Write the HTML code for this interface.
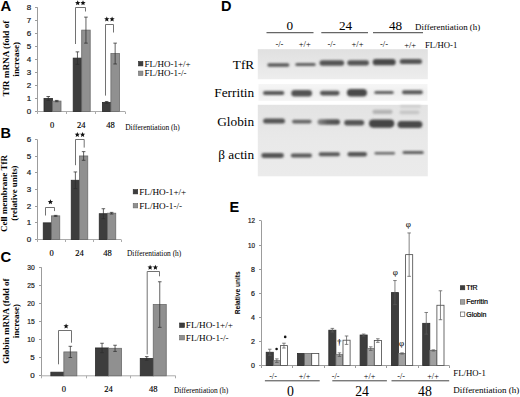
<!DOCTYPE html>
<html><head><meta charset="utf-8"><style>
html,body{margin:0;padding:0;background:#fff;width:520px;height:397px;overflow:hidden;}
svg{display:block;}
</style></head><body>
<svg width="520" height="397" viewBox="0 0 520 397">
<rect width="520" height="397" fill="#fff"/>
<text x="0.60" y="11.10" font-family="'Liberation Sans', sans-serif" font-size="14.8" font-weight="bold" text-anchor="start" fill="#000" >A</text>
<line x1="37.50" y1="7.34" x2="37.50" y2="111.50" stroke="#9c9c9c" stroke-width="1"/>
<line x1="35.00" y1="111.50" x2="37.50" y2="111.50" stroke="#9c9c9c" stroke-width="1"/>
<text x="31.30" y="114.38" font-family="'Liberation Sans', sans-serif" font-size="8" font-weight="normal" text-anchor="end" fill="#1a1a1a" stroke="#1a1a1a" stroke-width="0.22">0</text>
<line x1="35.00" y1="98.50" x2="37.50" y2="98.50" stroke="#9c9c9c" stroke-width="1"/>
<text x="31.30" y="101.38" font-family="'Liberation Sans', sans-serif" font-size="8" font-weight="normal" text-anchor="end" fill="#1a1a1a" stroke="#1a1a1a" stroke-width="0.22">1</text>
<line x1="35.00" y1="85.50" x2="37.50" y2="85.50" stroke="#9c9c9c" stroke-width="1"/>
<text x="31.30" y="88.38" font-family="'Liberation Sans', sans-serif" font-size="8" font-weight="normal" text-anchor="end" fill="#1a1a1a" stroke="#1a1a1a" stroke-width="0.22">2</text>
<line x1="35.00" y1="72.50" x2="37.50" y2="72.50" stroke="#9c9c9c" stroke-width="1"/>
<text x="31.30" y="75.38" font-family="'Liberation Sans', sans-serif" font-size="8" font-weight="normal" text-anchor="end" fill="#1a1a1a" stroke="#1a1a1a" stroke-width="0.22">3</text>
<line x1="35.00" y1="59.50" x2="37.50" y2="59.50" stroke="#9c9c9c" stroke-width="1"/>
<text x="31.30" y="62.38" font-family="'Liberation Sans', sans-serif" font-size="8" font-weight="normal" text-anchor="end" fill="#1a1a1a" stroke="#1a1a1a" stroke-width="0.22">4</text>
<line x1="35.00" y1="46.50" x2="37.50" y2="46.50" stroke="#9c9c9c" stroke-width="1"/>
<text x="31.30" y="49.38" font-family="'Liberation Sans', sans-serif" font-size="8" font-weight="normal" text-anchor="end" fill="#1a1a1a" stroke="#1a1a1a" stroke-width="0.22">5</text>
<line x1="35.00" y1="33.50" x2="37.50" y2="33.50" stroke="#9c9c9c" stroke-width="1"/>
<text x="31.30" y="36.38" font-family="'Liberation Sans', sans-serif" font-size="8" font-weight="normal" text-anchor="end" fill="#1a1a1a" stroke="#1a1a1a" stroke-width="0.22">6</text>
<line x1="35.00" y1="20.50" x2="37.50" y2="20.50" stroke="#9c9c9c" stroke-width="1"/>
<text x="31.30" y="23.38" font-family="'Liberation Sans', sans-serif" font-size="8" font-weight="normal" text-anchor="end" fill="#1a1a1a" stroke="#1a1a1a" stroke-width="0.22">7</text>
<line x1="35.00" y1="7.50" x2="37.50" y2="7.50" stroke="#9c9c9c" stroke-width="1"/>
<text x="31.30" y="10.38" font-family="'Liberation Sans', sans-serif" font-size="8" font-weight="normal" text-anchor="end" fill="#1a1a1a" stroke="#1a1a1a" stroke-width="0.22">8</text>
<line x1="37.50" y1="111.50" x2="125.00" y2="111.50" stroke="#ababab" stroke-width="1"/>
<line x1="37.50" y1="111.50" x2="37.50" y2="114.00" stroke="#ababab" stroke-width="1"/>
<line x1="66.50" y1="111.50" x2="66.50" y2="114.00" stroke="#ababab" stroke-width="1"/>
<line x1="95.50" y1="111.50" x2="95.50" y2="114.00" stroke="#ababab" stroke-width="1"/>
<line x1="125.50" y1="111.50" x2="125.50" y2="114.00" stroke="#ababab" stroke-width="1"/>
<rect x="44.00" y="98.48" width="8.50" height="13.02" fill="#3d3d3d" stroke="#2a2a2a" stroke-width="0.8"/>
<line x1="48.25" y1="96.53" x2="48.25" y2="100.43" stroke="#2e2e2e" stroke-width="0.75"/>
<line x1="46.45" y1="96.53" x2="50.05" y2="96.53" stroke="#2e2e2e" stroke-width="0.75"/>
<line x1="46.45" y1="100.43" x2="50.05" y2="100.43" stroke="#2e2e2e" stroke-width="0.75"/>
<rect x="52.50" y="101.08" width="8.50" height="10.42" fill="#909090" stroke="#6a6a6a" stroke-width="0.8"/>
<line x1="56.75" y1="100.43" x2="56.75" y2="101.73" stroke="#2e2e2e" stroke-width="0.75"/>
<line x1="54.95" y1="100.43" x2="58.55" y2="100.43" stroke="#2e2e2e" stroke-width="0.75"/>
<line x1="54.95" y1="101.73" x2="58.55" y2="101.73" stroke="#2e2e2e" stroke-width="0.75"/>
<rect x="73.20" y="58.12" width="8.50" height="53.38" fill="#3d3d3d" stroke="#2a2a2a" stroke-width="0.8"/>
<line x1="77.45" y1="51.87" x2="77.45" y2="64.37" stroke="#2e2e2e" stroke-width="0.75"/>
<line x1="75.65" y1="51.87" x2="79.25" y2="51.87" stroke="#2e2e2e" stroke-width="0.75"/>
<line x1="75.65" y1="64.37" x2="79.25" y2="64.37" stroke="#2e2e2e" stroke-width="0.75"/>
<rect x="81.70" y="30.12" width="8.50" height="81.38" fill="#909090" stroke="#6a6a6a" stroke-width="0.8"/>
<line x1="85.95" y1="17.11" x2="85.95" y2="43.14" stroke="#2e2e2e" stroke-width="0.75"/>
<line x1="84.15" y1="17.11" x2="87.75" y2="17.11" stroke="#2e2e2e" stroke-width="0.75"/>
<line x1="84.15" y1="43.14" x2="87.75" y2="43.14" stroke="#2e2e2e" stroke-width="0.75"/>
<rect x="102.40" y="102.39" width="8.50" height="9.11" fill="#3d3d3d" stroke="#2a2a2a" stroke-width="0.8"/>
<line x1="106.65" y1="101.47" x2="106.65" y2="103.30" stroke="#2e2e2e" stroke-width="0.75"/>
<line x1="104.85" y1="101.47" x2="108.45" y2="101.47" stroke="#2e2e2e" stroke-width="0.75"/>
<line x1="104.85" y1="103.30" x2="108.45" y2="103.30" stroke="#2e2e2e" stroke-width="0.75"/>
<rect x="110.90" y="53.56" width="8.50" height="57.94" fill="#909090" stroke="#6a6a6a" stroke-width="0.8"/>
<line x1="115.15" y1="43.14" x2="115.15" y2="63.98" stroke="#2e2e2e" stroke-width="0.75"/>
<line x1="113.35" y1="43.14" x2="116.95" y2="43.14" stroke="#2e2e2e" stroke-width="0.75"/>
<line x1="113.35" y1="63.98" x2="116.95" y2="63.98" stroke="#2e2e2e" stroke-width="0.75"/>
<polyline points="75.50,44.00 75.50,7.50 85.50,7.50 85.50,11.50" fill="none" stroke="#6a6a6a" stroke-width="0.95"/>
<polygon points="77.70,0.37 78.43,2.12 80.32,2.27 78.88,3.50 79.32,5.34 77.70,4.36 76.08,5.34 76.52,3.50 75.08,2.27 76.97,2.12" fill="#111"/>
<polygon points="83.00,0.37 83.73,2.12 85.62,2.27 84.18,3.50 84.62,5.34 83.00,4.36 81.38,5.34 81.82,3.50 80.38,2.27 82.27,2.12" fill="#111"/>
<polyline points="105.50,95.60 105.50,24.50 113.50,24.50 113.50,32.50" fill="none" stroke="#6a6a6a" stroke-width="0.95"/>
<polygon points="106.80,16.47 107.53,18.22 109.42,18.37 107.98,19.60 108.42,21.44 106.80,20.46 105.18,21.44 105.62,19.60 104.18,18.37 106.07,18.22" fill="#111"/>
<polygon points="112.10,16.47 112.83,18.22 114.72,18.37 113.28,19.60 113.72,21.44 112.10,20.46 110.48,21.44 110.92,19.60 109.48,18.37 111.37,18.22" fill="#111"/>
<rect x="138.50" y="61.50" width="4.40" height="4.40" fill="#3d3d3d" stroke="#2a2a2a" stroke-width="0.6"/>
<text x="144.50" y="66.50" font-family="'Liberation Serif', serif" font-size="9.0" font-weight="normal" text-anchor="start" fill="#000" >FL/HO-1+/+</text>
<rect x="138.50" y="71.10" width="4.40" height="4.40" fill="#909090" stroke="#6a6a6a" stroke-width="0.6"/>
<text x="144.50" y="76.30" font-family="'Liberation Serif', serif" font-size="9.0" font-weight="normal" text-anchor="start" fill="#000" >FL/HO-1-/-</text>
<text x="52.10" y="127.60" font-family="'Liberation Serif', serif" font-size="8.5" font-weight="normal" text-anchor="middle" fill="#000"  stroke="#000" stroke-width="0.15">0</text>
<text x="81.30" y="127.60" font-family="'Liberation Serif', serif" font-size="8.5" font-weight="normal" text-anchor="middle" fill="#000"  stroke="#000" stroke-width="0.15">24</text>
<text x="110.50" y="127.60" font-family="'Liberation Serif', serif" font-size="8.5" font-weight="normal" text-anchor="middle" fill="#000"  stroke="#000" stroke-width="0.15">48</text>
<text x="125.20" y="130.10" font-family="'Liberation Serif', serif" font-size="7.45" font-weight="normal" text-anchor="start" fill="#000" >Differentiation (h)</text>
<text transform="translate(9.2,58.5) rotate(-90)" font-family="'Liberation Serif', serif" font-size="9.2" font-weight="bold" text-anchor="middle">TfR mRNA (fold of</text>
<text transform="translate(19.0,59.3) rotate(-90)" font-family="'Liberation Serif', serif" font-size="9.1" font-weight="bold" text-anchor="middle">increase)</text>
<text x="0.50" y="137.60" font-family="'Liberation Sans', sans-serif" font-size="14.5" font-weight="bold" text-anchor="start" fill="#000" >B</text>
<line x1="37.50" y1="139.66" x2="37.50" y2="239.50" stroke="#9c9c9c" stroke-width="1"/>
<line x1="35.00" y1="239.50" x2="37.50" y2="239.50" stroke="#9c9c9c" stroke-width="1"/>
<text x="31.30" y="242.38" font-family="'Liberation Sans', sans-serif" font-size="8" font-weight="normal" text-anchor="end" fill="#1a1a1a" stroke="#1a1a1a" stroke-width="0.22">0</text>
<line x1="35.00" y1="222.50" x2="37.50" y2="222.50" stroke="#9c9c9c" stroke-width="1"/>
<text x="31.30" y="225.38" font-family="'Liberation Sans', sans-serif" font-size="8" font-weight="normal" text-anchor="end" fill="#1a1a1a" stroke="#1a1a1a" stroke-width="0.22">1</text>
<line x1="35.00" y1="206.50" x2="37.50" y2="206.50" stroke="#9c9c9c" stroke-width="1"/>
<text x="31.30" y="209.38" font-family="'Liberation Sans', sans-serif" font-size="8" font-weight="normal" text-anchor="end" fill="#1a1a1a" stroke="#1a1a1a" stroke-width="0.22">2</text>
<line x1="35.00" y1="189.50" x2="37.50" y2="189.50" stroke="#9c9c9c" stroke-width="1"/>
<text x="31.30" y="192.38" font-family="'Liberation Sans', sans-serif" font-size="8" font-weight="normal" text-anchor="end" fill="#1a1a1a" stroke="#1a1a1a" stroke-width="0.22">3</text>
<line x1="35.00" y1="172.50" x2="37.50" y2="172.50" stroke="#9c9c9c" stroke-width="1"/>
<text x="31.30" y="175.38" font-family="'Liberation Sans', sans-serif" font-size="8" font-weight="normal" text-anchor="end" fill="#1a1a1a" stroke="#1a1a1a" stroke-width="0.22">4</text>
<line x1="35.00" y1="156.50" x2="37.50" y2="156.50" stroke="#9c9c9c" stroke-width="1"/>
<text x="31.30" y="159.38" font-family="'Liberation Sans', sans-serif" font-size="8" font-weight="normal" text-anchor="end" fill="#1a1a1a" stroke="#1a1a1a" stroke-width="0.22">5</text>
<line x1="35.00" y1="139.50" x2="37.50" y2="139.50" stroke="#9c9c9c" stroke-width="1"/>
<text x="31.30" y="142.38" font-family="'Liberation Sans', sans-serif" font-size="8" font-weight="normal" text-anchor="end" fill="#1a1a1a" stroke="#1a1a1a" stroke-width="0.22">6</text>
<line x1="37.50" y1="239.50" x2="121.00" y2="239.50" stroke="#ababab" stroke-width="1"/>
<line x1="37.50" y1="239.50" x2="37.50" y2="242.00" stroke="#ababab" stroke-width="1"/>
<line x1="65.50" y1="239.50" x2="65.50" y2="242.00" stroke="#ababab" stroke-width="1"/>
<line x1="93.50" y1="239.50" x2="93.50" y2="242.00" stroke="#ababab" stroke-width="1"/>
<line x1="121.50" y1="239.50" x2="121.50" y2="242.00" stroke="#ababab" stroke-width="1"/>
<rect x="43.25" y="222.86" width="8.25" height="16.64" fill="#3d3d3d" stroke="#2a2a2a" stroke-width="0.8"/>
<rect x="51.50" y="215.87" width="8.25" height="23.63" fill="#909090" stroke="#6a6a6a" stroke-width="0.8"/>
<line x1="55.62" y1="215.37" x2="55.62" y2="216.37" stroke="#2e2e2e" stroke-width="0.75"/>
<line x1="53.83" y1="215.37" x2="57.42" y2="215.37" stroke="#2e2e2e" stroke-width="0.75"/>
<line x1="53.83" y1="216.37" x2="57.42" y2="216.37" stroke="#2e2e2e" stroke-width="0.75"/>
<rect x="71.25" y="180.26" width="8.25" height="59.24" fill="#3d3d3d" stroke="#2a2a2a" stroke-width="0.8"/>
<line x1="75.38" y1="171.94" x2="75.38" y2="188.58" stroke="#2e2e2e" stroke-width="0.75"/>
<line x1="73.58" y1="171.94" x2="77.17" y2="171.94" stroke="#2e2e2e" stroke-width="0.75"/>
<line x1="73.58" y1="188.58" x2="77.17" y2="188.58" stroke="#2e2e2e" stroke-width="0.75"/>
<rect x="79.50" y="155.97" width="8.25" height="83.53" fill="#909090" stroke="#6a6a6a" stroke-width="0.8"/>
<line x1="83.62" y1="151.64" x2="83.62" y2="160.29" stroke="#2e2e2e" stroke-width="0.75"/>
<line x1="81.83" y1="151.64" x2="85.42" y2="151.64" stroke="#2e2e2e" stroke-width="0.75"/>
<line x1="81.83" y1="160.29" x2="85.42" y2="160.29" stroke="#2e2e2e" stroke-width="0.75"/>
<rect x="99.25" y="213.71" width="8.25" height="25.79" fill="#3d3d3d" stroke="#2a2a2a" stroke-width="0.8"/>
<line x1="103.38" y1="208.72" x2="103.38" y2="218.70" stroke="#2e2e2e" stroke-width="0.75"/>
<line x1="101.58" y1="208.72" x2="105.17" y2="208.72" stroke="#2e2e2e" stroke-width="0.75"/>
<line x1="101.58" y1="218.70" x2="105.17" y2="218.70" stroke="#2e2e2e" stroke-width="0.75"/>
<rect x="107.50" y="213.21" width="8.25" height="26.29" fill="#909090" stroke="#6a6a6a" stroke-width="0.8"/>
<line x1="111.62" y1="212.38" x2="111.62" y2="214.04" stroke="#2e2e2e" stroke-width="0.75"/>
<line x1="109.83" y1="212.38" x2="113.42" y2="212.38" stroke="#2e2e2e" stroke-width="0.75"/>
<line x1="109.83" y1="214.04" x2="113.42" y2="214.04" stroke="#2e2e2e" stroke-width="0.75"/>
<polyline points="45.50,215.50 45.50,207.50 54.50,207.50 54.50,211.10" fill="none" stroke="#6a6a6a" stroke-width="0.95"/>
<polygon points="50.40,199.37 51.13,201.12 53.02,201.27 51.58,202.50 52.02,204.34 50.40,203.36 48.78,204.34 49.22,202.50 47.78,201.27 49.67,201.12" fill="#111"/>
<polyline points="75.50,165.20 75.50,139.50 84.20,139.50 84.20,147.60" fill="none" stroke="#6a6a6a" stroke-width="0.95"/>
<polygon points="77.30,131.97 78.03,133.72 79.92,133.87 78.48,135.10 78.92,136.94 77.30,135.96 75.68,136.94 76.12,135.10 74.68,133.87 76.57,133.72" fill="#111"/>
<polygon points="82.60,131.97 83.33,133.72 85.22,133.87 83.78,135.10 84.22,136.94 82.60,135.96 80.98,136.94 81.42,135.10 79.98,133.87 81.87,133.72" fill="#111"/>
<rect x="133.20" y="189.60" width="4.50" height="4.30" fill="#3d3d3d" stroke="#2a2a2a" stroke-width="0.6"/>
<text x="139.20" y="194.70" font-family="'Liberation Serif', serif" font-size="9.2" font-weight="normal" text-anchor="start" fill="#000" >FL/HO-1+/+</text>
<rect x="133.20" y="203.60" width="4.50" height="4.30" fill="#909090" stroke="#6a6a6a" stroke-width="0.6"/>
<text x="139.20" y="208.60" font-family="'Liberation Serif', serif" font-size="9.2" font-weight="normal" text-anchor="start" fill="#000" >FL/HO-1-/-</text>
<text x="51.50" y="255.50" font-family="'Liberation Serif', serif" font-size="8.5" font-weight="normal" text-anchor="middle" fill="#000"  stroke="#000" stroke-width="0.15">0</text>
<text x="79.50" y="255.50" font-family="'Liberation Serif', serif" font-size="8.5" font-weight="normal" text-anchor="middle" fill="#000"  stroke="#000" stroke-width="0.15">24</text>
<text x="107.50" y="255.50" font-family="'Liberation Serif', serif" font-size="8.5" font-weight="normal" text-anchor="middle" fill="#000"  stroke="#000" stroke-width="0.15">48</text>
<text x="127.00" y="255.50" font-family="'Liberation Serif', serif" font-size="7.4" font-weight="normal" text-anchor="start" fill="#000" >Differentiation (h)</text>
<text transform="translate(7.1,193.5) rotate(-90)" font-family="'Liberation Serif', serif" font-size="9" font-weight="bold" text-anchor="middle">Cell membrane TfR</text>
<text transform="translate(16.9,193.1) rotate(-90)" font-family="'Liberation Serif', serif" font-size="8.9" font-weight="bold" text-anchor="middle">(relative units)</text>
<text x="0.40" y="261.60" font-family="'Liberation Sans', sans-serif" font-size="14.8" font-weight="bold" text-anchor="start" fill="#000" >C</text>
<line x1="41.50" y1="267.29" x2="41.50" y2="375.80" stroke="#9c9c9c" stroke-width="1"/>
<line x1="39.00" y1="375.50" x2="41.50" y2="375.50" stroke="#9c9c9c" stroke-width="1"/>
<text x="34.80" y="378.38" font-family="'Liberation Sans', sans-serif" font-size="8" font-weight="normal" text-anchor="end" fill="#1a1a1a" stroke="#1a1a1a" stroke-width="0.22">0</text>
<line x1="39.00" y1="357.50" x2="41.50" y2="357.50" stroke="#9c9c9c" stroke-width="1"/>
<text x="34.80" y="360.38" font-family="'Liberation Sans', sans-serif" font-size="8" font-weight="normal" text-anchor="end" fill="#1a1a1a" stroke="#1a1a1a" stroke-width="0.22">5</text>
<line x1="39.00" y1="339.50" x2="41.50" y2="339.50" stroke="#9c9c9c" stroke-width="1"/>
<text x="27.30" y="342.38" font-family="'Liberation Sans', sans-serif" font-size="8" font-weight="normal" text-anchor="start" fill="#1a1a1a" textLength="7.5" lengthAdjust="spacingAndGlyphs" stroke="#1a1a1a" stroke-width="0.22">10</text>
<line x1="39.00" y1="321.50" x2="41.50" y2="321.50" stroke="#9c9c9c" stroke-width="1"/>
<text x="27.30" y="324.38" font-family="'Liberation Sans', sans-serif" font-size="8" font-weight="normal" text-anchor="start" fill="#1a1a1a" textLength="7.5" lengthAdjust="spacingAndGlyphs" stroke="#1a1a1a" stroke-width="0.22">15</text>
<line x1="39.00" y1="303.50" x2="41.50" y2="303.50" stroke="#9c9c9c" stroke-width="1"/>
<text x="27.30" y="306.38" font-family="'Liberation Sans', sans-serif" font-size="8" font-weight="normal" text-anchor="start" fill="#1a1a1a" textLength="7.5" lengthAdjust="spacingAndGlyphs" stroke="#1a1a1a" stroke-width="0.22">20</text>
<line x1="39.00" y1="285.50" x2="41.50" y2="285.50" stroke="#9c9c9c" stroke-width="1"/>
<text x="27.30" y="288.38" font-family="'Liberation Sans', sans-serif" font-size="8" font-weight="normal" text-anchor="start" fill="#1a1a1a" textLength="7.5" lengthAdjust="spacingAndGlyphs" stroke="#1a1a1a" stroke-width="0.22">25</text>
<line x1="39.00" y1="267.50" x2="41.50" y2="267.50" stroke="#9c9c9c" stroke-width="1"/>
<text x="27.30" y="270.38" font-family="'Liberation Sans', sans-serif" font-size="8" font-weight="normal" text-anchor="start" fill="#1a1a1a" textLength="7.5" lengthAdjust="spacingAndGlyphs" stroke="#1a1a1a" stroke-width="0.22">30</text>
<line x1="41.50" y1="375.80" x2="175.60" y2="375.80" stroke="#ababab" stroke-width="1"/>
<line x1="41.50" y1="375.80" x2="41.50" y2="378.30" stroke="#ababab" stroke-width="1"/>
<line x1="86.50" y1="375.80" x2="86.50" y2="378.30" stroke="#ababab" stroke-width="1"/>
<line x1="130.50" y1="375.80" x2="130.50" y2="378.30" stroke="#ababab" stroke-width="1"/>
<line x1="175.50" y1="375.80" x2="175.50" y2="378.30" stroke="#ababab" stroke-width="1"/>
<rect x="50.85" y="372.18" width="13.00" height="3.62" fill="#3d3d3d" stroke="#2a2a2a" stroke-width="0.8"/>
<rect x="63.85" y="351.93" width="13.00" height="23.87" fill="#909090" stroke="#6a6a6a" stroke-width="0.8"/>
<line x1="70.35" y1="346.32" x2="70.35" y2="357.53" stroke="#2e2e2e" stroke-width="0.75"/>
<line x1="68.55" y1="346.32" x2="72.15" y2="346.32" stroke="#2e2e2e" stroke-width="0.75"/>
<line x1="68.55" y1="357.53" x2="72.15" y2="357.53" stroke="#2e2e2e" stroke-width="0.75"/>
<rect x="95.55" y="347.95" width="13.00" height="27.85" fill="#3d3d3d" stroke="#2a2a2a" stroke-width="0.8"/>
<line x1="102.05" y1="343.25" x2="102.05" y2="352.65" stroke="#2e2e2e" stroke-width="0.75"/>
<line x1="100.25" y1="343.25" x2="103.85" y2="343.25" stroke="#2e2e2e" stroke-width="0.75"/>
<line x1="100.25" y1="352.65" x2="103.85" y2="352.65" stroke="#2e2e2e" stroke-width="0.75"/>
<rect x="108.55" y="348.31" width="13.00" height="27.49" fill="#909090" stroke="#6a6a6a" stroke-width="0.8"/>
<line x1="115.05" y1="345.24" x2="115.05" y2="351.39" stroke="#2e2e2e" stroke-width="0.75"/>
<line x1="113.25" y1="345.24" x2="116.85" y2="345.24" stroke="#2e2e2e" stroke-width="0.75"/>
<line x1="113.25" y1="351.39" x2="116.85" y2="351.39" stroke="#2e2e2e" stroke-width="0.75"/>
<rect x="140.25" y="358.44" width="13.00" height="17.36" fill="#3d3d3d" stroke="#2a2a2a" stroke-width="0.8"/>
<line x1="146.75" y1="356.63" x2="146.75" y2="360.25" stroke="#2e2e2e" stroke-width="0.75"/>
<line x1="144.95" y1="356.63" x2="148.55" y2="356.63" stroke="#2e2e2e" stroke-width="0.75"/>
<line x1="144.95" y1="360.25" x2="148.55" y2="360.25" stroke="#2e2e2e" stroke-width="0.75"/>
<rect x="153.25" y="304.55" width="13.00" height="71.25" fill="#909090" stroke="#6a6a6a" stroke-width="0.8"/>
<line x1="159.75" y1="281.76" x2="159.75" y2="327.33" stroke="#2e2e2e" stroke-width="0.75"/>
<line x1="157.95" y1="281.76" x2="161.55" y2="281.76" stroke="#2e2e2e" stroke-width="0.75"/>
<line x1="157.95" y1="327.33" x2="161.55" y2="327.33" stroke="#2e2e2e" stroke-width="0.75"/>
<polyline points="58.50,364.30 58.50,330.50 71.50,330.50 71.50,342.70" fill="none" stroke="#6a6a6a" stroke-width="0.95"/>
<polygon points="66.10,323.47 66.83,325.22 68.72,325.37 67.28,326.60 67.72,328.44 66.10,327.46 64.48,328.44 64.92,326.60 63.48,325.37 65.37,325.22" fill="#111"/>
<polyline points="147.20,354.40 147.20,271.50 159.50,271.50 159.50,276.30" fill="none" stroke="#6a6a6a" stroke-width="0.95"/>
<polygon points="150.10,264.67 150.83,266.42 152.72,266.57 151.28,267.80 151.72,269.64 150.10,268.66 148.48,269.64 148.92,267.80 147.48,266.57 149.37,266.42" fill="#111"/>
<polygon points="155.40,264.67 156.13,266.42 158.02,266.57 156.58,267.80 157.02,269.64 155.40,268.66 153.78,269.64 154.22,267.80 152.78,266.57 154.67,266.42" fill="#111"/>
<rect x="179.60" y="323.00" width="4.90" height="4.50" fill="#3d3d3d" stroke="#2a2a2a" stroke-width="0.6"/>
<text x="185.80" y="328.20" font-family="'Liberation Serif', serif" font-size="9.2" font-weight="normal" text-anchor="start" fill="#000" >FL/HO-1+/+</text>
<rect x="179.60" y="335.40" width="4.90" height="4.50" fill="#909090" stroke="#6a6a6a" stroke-width="0.6"/>
<text x="185.80" y="341.10" font-family="'Liberation Serif', serif" font-size="9.2" font-weight="normal" text-anchor="start" fill="#000" >FL/HO-1-/-</text>
<text x="63.85" y="392.40" font-family="'Liberation Serif', serif" font-size="8.5" font-weight="normal" text-anchor="middle" fill="#000"  stroke="#000" stroke-width="0.15">0</text>
<text x="108.55" y="392.40" font-family="'Liberation Serif', serif" font-size="8.5" font-weight="normal" text-anchor="middle" fill="#000"  stroke="#000" stroke-width="0.15">24</text>
<text x="153.25" y="392.40" font-family="'Liberation Serif', serif" font-size="8.5" font-weight="normal" text-anchor="middle" fill="#000"  stroke="#000" stroke-width="0.15">48</text>
<text x="173.90" y="393.30" font-family="'Liberation Serif', serif" font-size="7.4" font-weight="normal" text-anchor="start" fill="#000" >Differentiation (h)</text>
<text transform="translate(9.1,321.2) rotate(-90)" font-family="'Liberation Serif', serif" font-size="9.0" font-weight="bold" text-anchor="middle">Globin mRNA (fold of</text>
<text transform="translate(19.0,321.2) rotate(-90)" font-family="'Liberation Serif', serif" font-size="9.0" font-weight="bold" text-anchor="middle">increase)</text>
<text x="221.00" y="11.30" font-family="'Liberation Sans', sans-serif" font-size="14.5" font-weight="bold" text-anchor="start" fill="#000" >D</text>
<text x="289.80" y="30.40" font-family="'Liberation Serif', serif" font-size="13.2" font-weight="normal" text-anchor="middle" fill="#000" >0</text>
<line x1="266.50" y1="32.70" x2="313.50" y2="32.70" stroke="#666" stroke-width="1.2"/>
<text x="345.50" y="30.40" font-family="'Liberation Serif', serif" font-size="13.2" font-weight="normal" text-anchor="middle" fill="#000" >24</text>
<line x1="321.30" y1="32.70" x2="368.00" y2="32.70" stroke="#666" stroke-width="1.2"/>
<text x="395.50" y="30.40" font-family="'Liberation Serif', serif" font-size="13.2" font-weight="normal" text-anchor="middle" fill="#000" >48</text>
<line x1="373.00" y1="32.70" x2="423.00" y2="32.70" stroke="#666" stroke-width="1.2"/>
<text x="415.00" y="30.30" font-family="'Liberation Serif', serif" font-size="8.9" font-weight="normal" text-anchor="start" fill="#000" >Differentiation (h)</text>
<text x="279.40" y="47.20" font-family="'Liberation Serif', serif" font-size="8.5" font-weight="normal" text-anchor="middle" fill="#000" >-/-</text>
<text x="304.80" y="47.20" font-family="'Liberation Serif', serif" font-size="8.5" font-weight="normal" text-anchor="middle" fill="#000" >+/+</text>
<text x="331.50" y="47.20" font-family="'Liberation Serif', serif" font-size="8.5" font-weight="normal" text-anchor="middle" fill="#000" >-/-</text>
<text x="357.50" y="47.20" font-family="'Liberation Serif', serif" font-size="8.5" font-weight="normal" text-anchor="middle" fill="#000" >+/+</text>
<text x="384.00" y="47.20" font-family="'Liberation Serif', serif" font-size="8.5" font-weight="normal" text-anchor="middle" fill="#000" >-/-</text>
<text x="410.20" y="48.20" font-family="'Liberation Serif', serif" font-size="8.5" font-weight="normal" text-anchor="middle" fill="#000" >+/+</text>
<text x="425.00" y="48.10" font-family="'Liberation Serif', serif" font-size="8.7" font-weight="normal" text-anchor="start" fill="#000" >FL/HO-1</text>
<defs><filter id="bl" x="-20%" y="-100%" width="140%" height="300%"><feGaussianBlur stdDeviation="0.95"/></filter><filter id="bl3" x="-20%" y="-100%" width="140%" height="300%"><feGaussianBlur stdDeviation="1.3"/></filter><filter id="bl2" x="-10%" y="-10%" width="120%" height="120%"><feGaussianBlur stdDeviation="0.7"/></filter><linearGradient id="gT" x1="0" y1="0" x2="0" y2="1"><stop offset="0" stop-color="#e0e0e0"/><stop offset="0.5" stop-color="#e7e7e7"/><stop offset="1" stop-color="#ededed"/></linearGradient><linearGradient id="gF" x1="0" y1="0" x2="0" y2="1"><stop offset="0" stop-color="#f6f6f6"/><stop offset="0.5" stop-color="#efefef"/><stop offset="1" stop-color="#f4f4f4"/></linearGradient><linearGradient id="gG" x1="0" y1="0" x2="0" y2="1"><stop offset="0" stop-color="#e3e3e3"/><stop offset="0.5" stop-color="#e9e9e9"/><stop offset="1" stop-color="#ebebeb"/></linearGradient></defs>
<g filter="url(#bl2)">
<rect x="257.80" y="49.20" width="170.00" height="30.00" fill="url(#gT)"/>
<rect x="258.50" y="84.00" width="169.00" height="16.80" fill="url(#gF)"/>
<rect x="257.80" y="104.80" width="170.00" height="71.50" fill="url(#gG)"/>
</g>
<rect x="267.30" y="63.20" width="22.10" height="3.60" rx="1.80" fill="#585858" opacity="1.0" filter="url(#bl)"/>
<rect x="295.30" y="62.90" width="20.40" height="3.00" rx="1.50" fill="#5e5e5e" opacity="1.0" filter="url(#bl)"/>
<rect x="319.50" y="60.20" width="24.70" height="5.60" rx="2.80" fill="#555555" opacity="1.0" filter="url(#bl)"/>
<rect x="347.30" y="60.20" width="21.70" height="5.20" rx="2.60" fill="#555555" opacity="1.0" filter="url(#bl)"/>
<rect x="372.70" y="59.10" width="23.00" height="6.20" rx="3.10" fill="#4a4a4a" opacity="1.0" filter="url(#bl)"/>
<rect x="399.70" y="58.90" width="22.30" height="5.00" rx="2.50" fill="#555555" opacity="1.0" filter="url(#bl)"/>
<rect x="263.00" y="91.00" width="21.30" height="4.00" rx="2.00" fill="#585858" opacity="1.0" filter="url(#bl)"/>
<rect x="291.30" y="90.00" width="20.70" height="6.60" rx="3.30" fill="#525252" opacity="1.0" filter="url(#bl)"/>
<rect x="320.00" y="90.70" width="19.60" height="4.80" rx="2.40" fill="#555555" opacity="1.0" filter="url(#bl)"/>
<rect x="346.90" y="88.95" width="20.10" height="7.50" rx="3.75" fill="#484848" opacity="1.0" filter="url(#bl)"/>
<rect x="374.30" y="91.00" width="19.40" height="3.00" rx="1.50" fill="#5e5e5e" opacity="1.0" filter="url(#bl)"/>
<rect x="402.00" y="90.30" width="20.80" height="4.00" rx="2.00" fill="#585858" opacity="1.0" filter="url(#bl)"/>
<rect x="263.10" y="118.40" width="21.90" height="5.00" rx="2.50" fill="#555555" opacity="1.0" filter="url(#bl)"/>
<rect x="292.00" y="119.80" width="19.60" height="3.60" rx="1.80" fill="#636363" opacity="1.0" filter="url(#bl)"/>
<linearGradient id="g24" x1="0" y1="0" x2="1" y2="0"><stop offset="0" stop-color="#8a8a8a"/><stop offset="0.45" stop-color="#5a5a5a"/><stop offset="1" stop-color="#4e4e4e"/></linearGradient>
<rect x="317.50" y="119.20" width="22.50" height="5.60" rx="2.80" fill="url(#g24)" opacity="1.0" filter="url(#bl)"/>
<rect x="344.20" y="119.95" width="20.00" height="5.50" rx="2.75" fill="#555555" opacity="1.0" filter="url(#bl)"/>
<rect x="369.00" y="119.50" width="25.30" height="8.20" rx="4.10" fill="#454545" opacity="1.0" filter="url(#bl)"/>
<rect x="397.50" y="120.90" width="24.90" height="7.20" rx="3.60" fill="#484848" opacity="1.0" filter="url(#bl)"/>
<g filter="url(#bl3)">
<rect x="372.5" y="109.8" width="20" height="4.2" rx="2" fill="#b4b4b4"/>
<rect x="399.5" y="110.6" width="20" height="3.6" rx="1.8" fill="#c6c6c6"/>
<rect x="400" y="105.2" width="21" height="2.6" rx="1.3" fill="#cdcdcd"/>
</g>
<rect x="261.30" y="153.10" width="22.60" height="4.80" rx="2.40" fill="#555555" opacity="1.0" filter="url(#bl)"/>
<rect x="290.80" y="153.50" width="21.20" height="4.00" rx="2.00" fill="#585858" opacity="1.0" filter="url(#bl)"/>
<rect x="318.75" y="152.25" width="21.25" height="4.00" rx="2.00" fill="#585858" opacity="1.0" filter="url(#bl)"/>
<rect x="347.50" y="152.00" width="19.50" height="4.50" rx="2.25" fill="#555555" opacity="1.0" filter="url(#bl)"/>
<rect x="374.50" y="151.95" width="20.50" height="2.60" rx="1.30" fill="#636363" opacity="1.0" filter="url(#bl)"/>
<rect x="402.50" y="151.00" width="21.25" height="3.00" rx="1.50" fill="#5e5e5e" opacity="1.0" filter="url(#bl)"/>
<text x="254.20" y="69.30" font-family="'Liberation Serif', serif" font-size="13.3" font-weight="normal" text-anchor="end" fill="#000" >TfR</text>
<text x="254.20" y="96.50" font-family="'Liberation Serif', serif" font-size="13.3" font-weight="normal" text-anchor="end" fill="#000" >Ferritin</text>
<text x="254.20" y="126.20" font-family="'Liberation Serif', serif" font-size="13.3" font-weight="normal" text-anchor="end" fill="#000" >Globin</text>
<text x="254.20" y="158.50" font-family="'Liberation Serif', serif" font-size="13.3" font-weight="normal" text-anchor="end" fill="#000" >&#946; actin</text>
<text x="229.50" y="211.90" font-family="'Liberation Sans', sans-serif" font-size="14.5" font-weight="bold" text-anchor="start" fill="#000" >E</text>
<line x1="261.50" y1="220.90" x2="261.50" y2="365.50" stroke="#9c9c9c" stroke-width="1"/>
<line x1="259.00" y1="365.50" x2="261.50" y2="365.50" stroke="#9c9c9c" stroke-width="1"/>
<text x="255.00" y="368.02" font-family="'Liberation Sans', sans-serif" font-size="7" font-weight="normal" text-anchor="end" fill="#1a1a1a" stroke="#1a1a1a" stroke-width="0.22">0</text>
<line x1="259.00" y1="341.50" x2="261.50" y2="341.50" stroke="#9c9c9c" stroke-width="1"/>
<text x="255.00" y="344.02" font-family="'Liberation Sans', sans-serif" font-size="7" font-weight="normal" text-anchor="end" fill="#1a1a1a" stroke="#1a1a1a" stroke-width="0.22">2</text>
<line x1="259.00" y1="317.50" x2="261.50" y2="317.50" stroke="#9c9c9c" stroke-width="1"/>
<text x="255.00" y="320.02" font-family="'Liberation Sans', sans-serif" font-size="7" font-weight="normal" text-anchor="end" fill="#1a1a1a" stroke="#1a1a1a" stroke-width="0.22">4</text>
<line x1="259.00" y1="293.50" x2="261.50" y2="293.50" stroke="#9c9c9c" stroke-width="1"/>
<text x="255.00" y="296.02" font-family="'Liberation Sans', sans-serif" font-size="7" font-weight="normal" text-anchor="end" fill="#1a1a1a" stroke="#1a1a1a" stroke-width="0.22">6</text>
<line x1="259.00" y1="269.50" x2="261.50" y2="269.50" stroke="#9c9c9c" stroke-width="1"/>
<text x="255.00" y="272.02" font-family="'Liberation Sans', sans-serif" font-size="7" font-weight="normal" text-anchor="end" fill="#1a1a1a" stroke="#1a1a1a" stroke-width="0.22">8</text>
<line x1="259.00" y1="245.50" x2="261.50" y2="245.50" stroke="#9c9c9c" stroke-width="1"/>
<text x="248.00" y="248.02" font-family="'Liberation Sans', sans-serif" font-size="7" font-weight="normal" text-anchor="start" fill="#1a1a1a" textLength="7" lengthAdjust="spacingAndGlyphs" stroke="#1a1a1a" stroke-width="0.22">10</text>
<line x1="259.00" y1="220.50" x2="261.50" y2="220.50" stroke="#9c9c9c" stroke-width="1"/>
<text x="248.00" y="223.02" font-family="'Liberation Sans', sans-serif" font-size="7" font-weight="normal" text-anchor="start" fill="#1a1a1a" textLength="7" lengthAdjust="spacingAndGlyphs" stroke="#1a1a1a" stroke-width="0.22">12</text>
<line x1="261.50" y1="365.50" x2="449.30" y2="365.50" stroke="#9c9c9c" stroke-width="1"/>
<line x1="261.50" y1="365.50" x2="261.50" y2="368.00" stroke="#9c9c9c" stroke-width="1"/>
<line x1="292.50" y1="365.50" x2="292.50" y2="368.00" stroke="#9c9c9c" stroke-width="1"/>
<line x1="324.50" y1="365.50" x2="324.50" y2="368.00" stroke="#9c9c9c" stroke-width="1"/>
<line x1="355.50" y1="365.50" x2="355.50" y2="368.00" stroke="#9c9c9c" stroke-width="1"/>
<line x1="386.50" y1="365.50" x2="386.50" y2="368.00" stroke="#9c9c9c" stroke-width="1"/>
<line x1="418.50" y1="365.50" x2="418.50" y2="368.00" stroke="#9c9c9c" stroke-width="1"/>
<line x1="449.50" y1="365.50" x2="449.50" y2="368.00" stroke="#9c9c9c" stroke-width="1"/>
<rect x="266.20" y="352.25" width="7.10" height="13.26" fill="#3d3d3d" stroke="#2a2a2a" stroke-width="0.8"/>
<line x1="269.75" y1="349.23" x2="269.75" y2="355.26" stroke="#5a5a5a" stroke-width="0.75"/>
<line x1="267.98" y1="349.23" x2="271.52" y2="349.23" stroke="#5a5a5a" stroke-width="0.75"/>
<line x1="267.98" y1="355.26" x2="271.52" y2="355.26" stroke="#5a5a5a" stroke-width="0.75"/>
<rect x="273.30" y="360.68" width="7.10" height="4.82" fill="#a0a0a0" stroke="#6a6a6a" stroke-width="0.8"/>
<line x1="276.85" y1="358.87" x2="276.85" y2="362.49" stroke="#5a5a5a" stroke-width="0.75"/>
<line x1="275.08" y1="358.87" x2="278.62" y2="358.87" stroke="#5a5a5a" stroke-width="0.75"/>
<line x1="275.08" y1="362.49" x2="278.62" y2="362.49" stroke="#5a5a5a" stroke-width="0.75"/>
<rect x="280.40" y="345.62" width="7.10" height="19.88" fill="#ffffff" stroke="#474747" stroke-width="0.8"/>
<line x1="283.95" y1="343.21" x2="283.95" y2="348.03" stroke="#5a5a5a" stroke-width="0.75"/>
<line x1="282.18" y1="343.21" x2="285.72" y2="343.21" stroke="#5a5a5a" stroke-width="0.75"/>
<line x1="282.18" y1="348.03" x2="285.72" y2="348.03" stroke="#5a5a5a" stroke-width="0.75"/>
<rect x="297.50" y="353.45" width="7.10" height="12.05" fill="#3d3d3d" stroke="#2a2a2a" stroke-width="0.8"/>
<rect x="304.60" y="353.45" width="7.10" height="12.05" fill="#a0a0a0" stroke="#6a6a6a" stroke-width="0.8"/>
<rect x="311.70" y="353.45" width="7.10" height="12.05" fill="#ffffff" stroke="#474747" stroke-width="0.8"/>
<rect x="328.80" y="330.19" width="7.10" height="35.31" fill="#3d3d3d" stroke="#2a2a2a" stroke-width="0.8"/>
<line x1="332.35" y1="328.39" x2="332.35" y2="332.00" stroke="#5a5a5a" stroke-width="0.75"/>
<line x1="330.58" y1="328.39" x2="334.12" y2="328.39" stroke="#5a5a5a" stroke-width="0.75"/>
<line x1="330.58" y1="332.00" x2="334.12" y2="332.00" stroke="#5a5a5a" stroke-width="0.75"/>
<rect x="335.90" y="354.65" width="7.10" height="10.85" fill="#a0a0a0" stroke="#6a6a6a" stroke-width="0.8"/>
<line x1="339.45" y1="352.85" x2="339.45" y2="356.46" stroke="#5a5a5a" stroke-width="0.75"/>
<line x1="337.68" y1="352.85" x2="341.23" y2="352.85" stroke="#5a5a5a" stroke-width="0.75"/>
<line x1="337.68" y1="356.46" x2="341.23" y2="356.46" stroke="#5a5a5a" stroke-width="0.75"/>
<rect x="343.00" y="340.19" width="7.10" height="25.31" fill="#ffffff" stroke="#474747" stroke-width="0.8"/>
<line x1="346.55" y1="335.98" x2="346.55" y2="344.41" stroke="#5a5a5a" stroke-width="0.75"/>
<line x1="344.78" y1="335.98" x2="348.32" y2="335.98" stroke="#5a5a5a" stroke-width="0.75"/>
<line x1="344.78" y1="344.41" x2="348.32" y2="344.41" stroke="#5a5a5a" stroke-width="0.75"/>
<rect x="360.10" y="335.01" width="7.10" height="30.49" fill="#3d3d3d" stroke="#2a2a2a" stroke-width="0.8"/>
<line x1="363.65" y1="334.05" x2="363.65" y2="335.98" stroke="#5a5a5a" stroke-width="0.75"/>
<line x1="361.88" y1="334.05" x2="365.42" y2="334.05" stroke="#5a5a5a" stroke-width="0.75"/>
<line x1="361.88" y1="335.98" x2="365.42" y2="335.98" stroke="#5a5a5a" stroke-width="0.75"/>
<rect x="367.20" y="348.63" width="7.10" height="16.87" fill="#a0a0a0" stroke="#6a6a6a" stroke-width="0.8"/>
<line x1="370.75" y1="346.82" x2="370.75" y2="350.44" stroke="#5a5a5a" stroke-width="0.75"/>
<line x1="368.98" y1="346.82" x2="372.52" y2="346.82" stroke="#5a5a5a" stroke-width="0.75"/>
<line x1="368.98" y1="350.44" x2="372.52" y2="350.44" stroke="#5a5a5a" stroke-width="0.75"/>
<rect x="374.30" y="340.56" width="7.10" height="24.94" fill="#ffffff" stroke="#474747" stroke-width="0.8"/>
<line x1="377.85" y1="338.75" x2="377.85" y2="342.36" stroke="#5a5a5a" stroke-width="0.75"/>
<line x1="376.07" y1="338.75" x2="379.62" y2="338.75" stroke="#5a5a5a" stroke-width="0.75"/>
<line x1="376.07" y1="342.36" x2="379.62" y2="342.36" stroke="#5a5a5a" stroke-width="0.75"/>
<rect x="391.40" y="292.60" width="7.10" height="72.90" fill="#3d3d3d" stroke="#2a2a2a" stroke-width="0.8"/>
<line x1="394.95" y1="280.55" x2="394.95" y2="304.65" stroke="#5a5a5a" stroke-width="0.75"/>
<line x1="393.18" y1="280.55" x2="396.72" y2="280.55" stroke="#5a5a5a" stroke-width="0.75"/>
<line x1="393.18" y1="304.65" x2="396.72" y2="304.65" stroke="#5a5a5a" stroke-width="0.75"/>
<rect x="398.50" y="353.45" width="7.10" height="12.05" fill="#a0a0a0" stroke="#6a6a6a" stroke-width="0.8"/>
<line x1="402.05" y1="352.85" x2="402.05" y2="354.05" stroke="#5a5a5a" stroke-width="0.75"/>
<line x1="400.28" y1="352.85" x2="403.82" y2="352.85" stroke="#5a5a5a" stroke-width="0.75"/>
<line x1="400.28" y1="354.05" x2="403.82" y2="354.05" stroke="#5a5a5a" stroke-width="0.75"/>
<rect x="405.60" y="254.64" width="7.10" height="110.86" fill="#ffffff" stroke="#474747" stroke-width="0.8"/>
<line x1="409.15" y1="232.95" x2="409.15" y2="276.33" stroke="#5a5a5a" stroke-width="0.75"/>
<line x1="407.38" y1="232.95" x2="410.92" y2="232.95" stroke="#5a5a5a" stroke-width="0.75"/>
<line x1="407.38" y1="276.33" x2="410.92" y2="276.33" stroke="#5a5a5a" stroke-width="0.75"/>
<rect x="422.70" y="323.32" width="7.10" height="42.18" fill="#3d3d3d" stroke="#2a2a2a" stroke-width="0.8"/>
<line x1="426.25" y1="312.48" x2="426.25" y2="334.17" stroke="#5a5a5a" stroke-width="0.75"/>
<line x1="424.48" y1="312.48" x2="428.02" y2="312.48" stroke="#5a5a5a" stroke-width="0.75"/>
<line x1="424.48" y1="334.17" x2="428.02" y2="334.17" stroke="#5a5a5a" stroke-width="0.75"/>
<rect x="429.80" y="350.44" width="7.10" height="15.06" fill="#a0a0a0" stroke="#6a6a6a" stroke-width="0.8"/>
<line x1="433.35" y1="349.83" x2="433.35" y2="351.04" stroke="#5a5a5a" stroke-width="0.75"/>
<line x1="431.58" y1="349.83" x2="435.12" y2="349.83" stroke="#5a5a5a" stroke-width="0.75"/>
<line x1="431.58" y1="351.04" x2="435.12" y2="351.04" stroke="#5a5a5a" stroke-width="0.75"/>
<rect x="436.90" y="305.25" width="7.10" height="60.25" fill="#ffffff" stroke="#474747" stroke-width="0.8"/>
<line x1="440.45" y1="290.79" x2="440.45" y2="319.71" stroke="#5a5a5a" stroke-width="0.75"/>
<line x1="438.68" y1="290.79" x2="442.22" y2="290.79" stroke="#5a5a5a" stroke-width="0.75"/>
<line x1="438.68" y1="319.71" x2="442.22" y2="319.71" stroke="#5a5a5a" stroke-width="0.75"/>
<text transform="translate(239.5,292.8) rotate(-90)" font-family="'Liberation Sans', sans-serif" font-size="6.6" font-weight="bold" text-anchor="middle">Relative units</text>
<circle cx="276.6" cy="349" r="1.3" fill="#111"/>
<circle cx="285.2" cy="336.9" r="1.3" fill="#111"/>
<text x="339.30" y="345.40" font-family="'Liberation Serif', serif" font-size="8.2" font-weight="bold" text-anchor="middle" fill="#000" >&#8224;</text>
<text x="395.40" y="275.00" font-family="'Liberation Serif', serif" font-size="9" font-weight="normal" text-anchor="middle" fill="#000" >&#966;</text>
<text x="408.40" y="227.20" font-family="'Liberation Serif', serif" font-size="9" font-weight="normal" text-anchor="middle" fill="#000" >&#966;</text>
<text x="401.50" y="346.40" font-family="'Liberation Serif', serif" font-size="9" font-weight="normal" text-anchor="middle" fill="#000" >&#966;</text>
<rect x="460.30" y="285.70" width="4.50" height="4.10" fill="#3d3d3d" stroke="#2a2a2a" stroke-width="0.6"/>
<text x="466.20" y="289.90" font-family="'Liberation Sans', sans-serif" font-size="7.0" font-weight="normal" text-anchor="start" fill="#000" stroke="#000" stroke-width="0.2">TfR</text>
<rect x="460.30" y="299.70" width="4.50" height="4.50" fill="#a0a0a0" stroke="#6a6a6a" stroke-width="0.6"/>
<text x="466.20" y="304.30" font-family="'Liberation Sans', sans-serif" font-size="7.0" font-weight="normal" text-anchor="start" fill="#000" stroke="#000" stroke-width="0.2">Ferritin</text>
<rect x="460.30" y="312.00" width="4.50" height="4.60" fill="#ffffff" stroke="#474747" stroke-width="0.6"/>
<text x="466.20" y="316.80" font-family="'Liberation Sans', sans-serif" font-size="7.0" font-weight="normal" text-anchor="start" fill="#000" stroke="#000" stroke-width="0.2">Globin</text>
<text x="273.00" y="378.80" font-family="'Liberation Serif', serif" font-size="8.2" font-weight="normal" text-anchor="middle" fill="#000" >-/-</text>
<text x="335.70" y="378.80" font-family="'Liberation Serif', serif" font-size="8.2" font-weight="normal" text-anchor="middle" fill="#000" >-/-</text>
<text x="401.20" y="378.80" font-family="'Liberation Serif', serif" font-size="8.2" font-weight="normal" text-anchor="middle" fill="#000" >-/-</text>
<text x="304.60" y="378.80" font-family="'Liberation Serif', serif" font-size="8.2" font-weight="normal" text-anchor="middle" fill="#000" >+/+</text>
<text x="369.60" y="378.80" font-family="'Liberation Serif', serif" font-size="8.2" font-weight="normal" text-anchor="middle" fill="#000" >+/+</text>
<text x="433.00" y="378.80" font-family="'Liberation Serif', serif" font-size="8.2" font-weight="normal" text-anchor="middle" fill="#000" >+/+</text>
<line x1="264.90" y1="380.80" x2="319.70" y2="380.80" stroke="#444" stroke-width="1.0"/>
<line x1="332.30" y1="380.80" x2="386.90" y2="380.80" stroke="#444" stroke-width="1.0"/>
<line x1="391.50" y1="380.80" x2="449.20" y2="380.80" stroke="#444" stroke-width="1.0"/>
<text x="290.50" y="395.60" font-family="'Liberation Serif', serif" font-size="13.8" font-weight="normal" text-anchor="middle" fill="#000" >0</text>
<text x="362.10" y="395.60" font-family="'Liberation Serif', serif" font-size="13.8" font-weight="normal" text-anchor="middle" fill="#000" >24</text>
<text x="425.00" y="395.60" font-family="'Liberation Serif', serif" font-size="13.8" font-weight="normal" text-anchor="middle" fill="#000" >48</text>
<text x="453.30" y="376.20" font-family="'Liberation Serif', serif" font-size="8.75" font-weight="normal" text-anchor="start" fill="#000" >FL/HO-1</text>
<text x="453.30" y="392.80" font-family="'Liberation Serif', serif" font-size="9.0" font-weight="normal" text-anchor="start" fill="#000" >Differentiation (h)</text>
</svg>
</body></html>
